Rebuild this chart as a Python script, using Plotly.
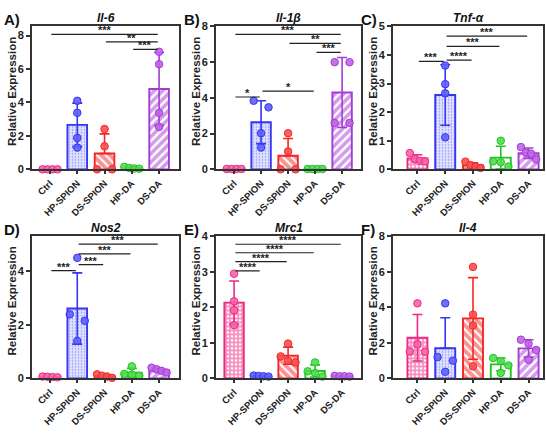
import numpy as np
import plotly.graph_objects as go

# ---------------- data ----------------
groups = ["Ctrl", "HP-SPION", "DS-SPION", "HP-DA", "DS-DA"]
genes = ["Il-6", "Il-1β", "Tnf-α", "Nos2", "Mrc1", "Il-4"]
letters = ["A)", "B)", "C)", "D)", "E)", "F)"]

il6_points = [[0.0, 0.0, 0.0, 0.0], [4.1, 3.38, 1.88, 1.3], [2.41, 1.38, 0.0, 0.0],
              [0.15, 0.08, 0.05, 0.04], [7.03, 6.29, 3.38, 2.54]]
il6_means = [0.0, 2.66, 0.95, 0.08, 4.81]
il6_sds = [0.0, 1.3, 1.17, 0.05, 2.18]

il1b_points = [[0.02, 0.02, 0.02, 0.02], [3.84, 3.47, 2.02, 1.22], [2.02, 1.0, 0.0, 0.0],
               [0.02, 0.02, 0.02, 0.02], [6.0, 6.0, 2.6, 2.6]]
il1b_means = [0.02, 2.64, 0.76, 0.02, 4.3]
il1b_sds = [0.01, 1.2, 0.97, 0.01, 1.96]

tnfa_points = [[0.57, 0.35, 0.3, 0.28], [3.63, 2.98, 2.66, 1.12], [0.27, 0.15, 0.1, 0.05],
               [1.0, 0.28, 0.25, 0.1], [0.78, 0.58, 0.55, 0.35]]
tnfa_means = [0.38, 2.6, 0.14, 0.41, 0.565]
tnfa_sds = [0.13, 1.06, 0.09, 0.4, 0.18]

nos2_points = [[0.07, 0.06, 0.05, 0.04], [4.5, 2.39, 2.15, 1.4], [0.15, 0.1, 0.07, 0.02],
               [0.45, 0.17, 0.14, 0.1], [0.4, 0.34, 0.28, 0.22]]
nos2_means = [0.055, 2.61, 0.085, 0.215, 0.31]
nos2_sds = [0.01, 1.33, 0.05, 0.16, 0.08]

mrc1_points = [[2.95, 2.17, 1.92, 1.5], [0.08, 0.07, 0.06, 0.05], [0.98, 0.62, 0.5, 0.45],
               [0.45, 0.2, 0.15, 0.05], [0.07, 0.06, 0.06, 0.05]]
mrc1_means = [2.135, 0.065, 0.64, 0.21, 0.06]
mrc1_sds = [0.61, 0.01, 0.24, 0.17, 0.01]

il4_points = [[4.23, 1.92, 1.52, 1.5], [4.23, 1.2, 1.0, 0.37], [6.28, 3.59, 2.98, 0.68],
              [1.15, 0.97, 0.73, 0.31], [2.18, 1.95, 1.6, 1.05]]
il4_means = [2.29, 1.7, 3.38, 0.79, 1.69]
il4_sds = [1.31, 1.72, 2.3, 0.36, 0.49]

# significance brackets: (group a, group b, height, label)
il6_sig = [(0, 4, 8.08, "***"), (2, 4, 7.63, "**"), (3, 4, 7.18, "***")]
il1b_sig = [(0, 4, 7.55, "***"), (2, 4, 7.05, "**"), (3, 4, 6.55, "***"),
            (0, 1, 4.05, "*"), (1, 3, 4.38, "*")]
tnfa_sig = [(0, 1, 3.78, "***"), (1, 2, 3.82, "****"), (1, 3, 4.3, "***"), (1, 4, 4.66, "***")]
nos2_sig = [(0, 1, 4.02, "***"), (1, 2, 4.25, "***"), (1, 3, 4.65, "***"), (1, 4, 5.01, "***")]
mrc1_sig = [(0, 1, 3.03, "****"), (0, 2, 3.29, "****"), (0, 3, 3.54, "****"), (0, 4, 3.78, "****")]
il4_sig = []

y_ticks = [[0, 2, 4, 6, 8], [0, 2, 4, 6, 8], [0, 1, 2, 3, 4, 5],
           [0, 2, 4], [0, 1, 2, 3, 4], [0, 2, 4, 6, 8]]

panels = [
    (il6_points, il6_means, il6_sds, il6_sig),
    (il1b_points, il1b_means, il1b_sds, il1b_sig),
    (tnfa_points, tnfa_means, tnfa_sds, tnfa_sig),
    (nos2_points, nos2_means, nos2_sds, nos2_sig),
    (mrc1_points, mrc1_means, mrc1_sds, mrc1_sig),
    (il4_points, il4_means, il4_sds, il4_sig),
]

# ---------------- style / layout ----------------
W, H = 546, 433
FONT = "Liberation Sans"
boxes = [(32, 179, 21, 168), (216, 361, 21, 168), (393, 543, 21, 168),
         (32, 179, 237, 383), (216, 361, 237, 383), (393, 543, 237, 383)]
x_ranges = [[-0.66, 4.73], [-0.67, 4.7], [-0.88, 4.52],
            [-0.66, 4.73], [-0.67, 4.7], [-0.88, 4.52]]
y_ranges = [[0, 8.55], [0, 8], [0, 5], [0, 5.3], [0, 4], [0, 8]]

colors = ["#ec2a84", "#3535f5", "#f52525", "#22c422", "#a43bd6"]
point_fill = ["rgba(246,100,170,0.9)", "rgba(95,95,250,0.9)", "rgba(248,80,80,0.9)",
              "rgba(80,220,80,0.9)", "rgba(190,100,230,0.9)"]
patterns = [
    dict(shape="+", fgcolor=colors[0], bgcolor="#ffffff", size=4, solidity=0.7),
    dict(shape=".", fgcolor=colors[1], bgcolor="#dfe2ff", size=3, solidity=0.2),
    dict(shape="\\", fgcolor=colors[2], bgcolor="#ffffff", size=6, solidity=0.65),
    dict(shape="", bgcolor="#ffffff"),
    dict(shape="/", fgcolor=colors[4], bgcolor="#ffffff", size=6, solidity=0.6),
]


def swarm(vals, thr, span=0.55):
    vals = np.asarray(vals, dtype=float)
    order = list(np.argsort(-vals, kind="stable"))
    clusters, cur = [], [order[0]]
    for k in order[1:]:
        if abs(vals[cur[-1]] - vals[k]) < thr:
            cur.append(k)
        else:
            clusters.append(cur)
            cur = [k]
    clusters.append(cur)
    off = np.zeros(len(vals))
    for c in clusters:
        n = len(c)
        if n > 1:
            step = span / (n - 1)
            for m, idx in enumerate(c):
                off[idx] = (m - (n - 1) / 2) * step
    return off


fig = go.Figure()
annotations = []
layout_axes = {}

for p, (pts, means, sds, sigs) in enumerate(panels):
    xs = "x" if p == 0 else f"x{p + 1}"
    ys = "y" if p == 0 else f"y{p + 1}"
    x0, x1, y0, y1 = boxes[p]
    height_px = y1 - y0
    yr = y_ranges[p]
    thr = 7.0 * (yr[1] - yr[0]) / height_px

    for g in range(5):
        m = means[g]
        s = sds[g]
        minus = s if m - s > 0 else 0.0
        fig.add_trace(go.Bar(
            x=[g], y=[m], width=0.72, xaxis=xs, yaxis=ys,
            marker=dict(color="#ffffff", line=dict(color=colors[g], width=1.9),
                        pattern=patterns[g]),
            error_y=dict(type="data", array=[s], arrayminus=[minus], symmetric=False,
                         color=colors[g], thickness=1.6, width=5),
            showlegend=False, hoverinfo="skip"))
    for g in range(5):
        off = swarm(pts[g], thr)
        fig.add_trace(go.Scatter(
            x=g + off, y=pts[g], mode="markers", xaxis=xs, yaxis=ys,
            marker=dict(size=7.5, color=point_fill[g], line=dict(color=colors[g], width=1)),
            cliponaxis=False, showlegend=False, hoverinfo="skip"))

    for (a, b, h, lab) in sigs:
        inset = 0.05
        fig.add_trace(go.Scatter(
            x=[a + inset, b - inset], y=[h, h], mode="lines", xaxis=xs, yaxis=ys,
            line=dict(color="#222222", width=1.2), showlegend=False, hoverinfo="skip",
            cliponaxis=False))
        annotations.append(dict(
            x=(a + b) / 2, y=h, xref=xs, yref=ys, text=lab, showarrow=False,
            xanchor="center", yanchor="bottom", yshift=-4,
            font=dict(family=FONT, size=11, color="#222222", weight="bold")))

    dx = [x0 / W, x1 / W]
    dy = [1 - y1 / H, 1 - y0 / H]
    axis_common = dict(showline=True, linecolor="#333333", linewidth=1.7, mirror=True,
                       showgrid=False, zeroline=False, ticks="outside",
                       tickcolor="#333333", tickwidth=1.5)
    layout_axes["xaxis" if p == 0 else f"xaxis{p + 1}"] = dict(
        domain=dx, anchor=ys, range=x_ranges[p], tickmode="array",
        tickvals=list(range(5)), ticktext=groups, tickangle=-45, ticklen=3,
        tickfont=dict(family=FONT, size=9.5, color="#222222", weight="bold"),
        **axis_common)
    layout_axes["yaxis" if p == 0 else f"yaxis{p + 1}"] = dict(
        domain=dy, anchor=xs, range=yr, tickmode="array", tickvals=y_ticks[p],
        ticklen=4, tickfont=dict(family=FONT, size=11, color="#222222", weight="bold"),
        **axis_common)

    # gene title
    annotations.append(dict(
        x=(x0 + x1) / 2 / W, y=1 - (y0 - 9) / H, xref="paper", yref="paper",
        text=genes[p], showarrow=False, xanchor="center", yanchor="middle",
        font=dict(family=FONT, size=12, color="#111111", weight="bold", style="italic")))
    # panel letter
    annotations.append(dict(
        x=(x0 - 30) / W if p % 3 == 0 else (x0 - 34) / W, y=1 - (y0 - 7) / H,
        xref="paper", yref="paper", text=letters[p], showarrow=False,
        xanchor="left", yanchor="middle",
        font=dict(family=FONT, size=15, color="#111111", weight="bold")))
    # y-axis title
    annotations.append(dict(
        x=(x0 - 20) / W, y=1 - ((y0 + y1) / 2 - 6) / H, xref="paper", yref="paper",
        text="Relative Expression", showarrow=False, textangle=-90,
        xanchor="center", yanchor="middle",
        font=dict(family=FONT, size=11.5, color="#222222", weight="bold")))

fig.update_layout(
    width=W, height=H, margin=dict(l=0, r=0, t=0, b=0),
    paper_bgcolor="white", plot_bgcolor="white",
    barmode="overlay", annotations=annotations, **layout_axes)

fig.write_html("out.html")
